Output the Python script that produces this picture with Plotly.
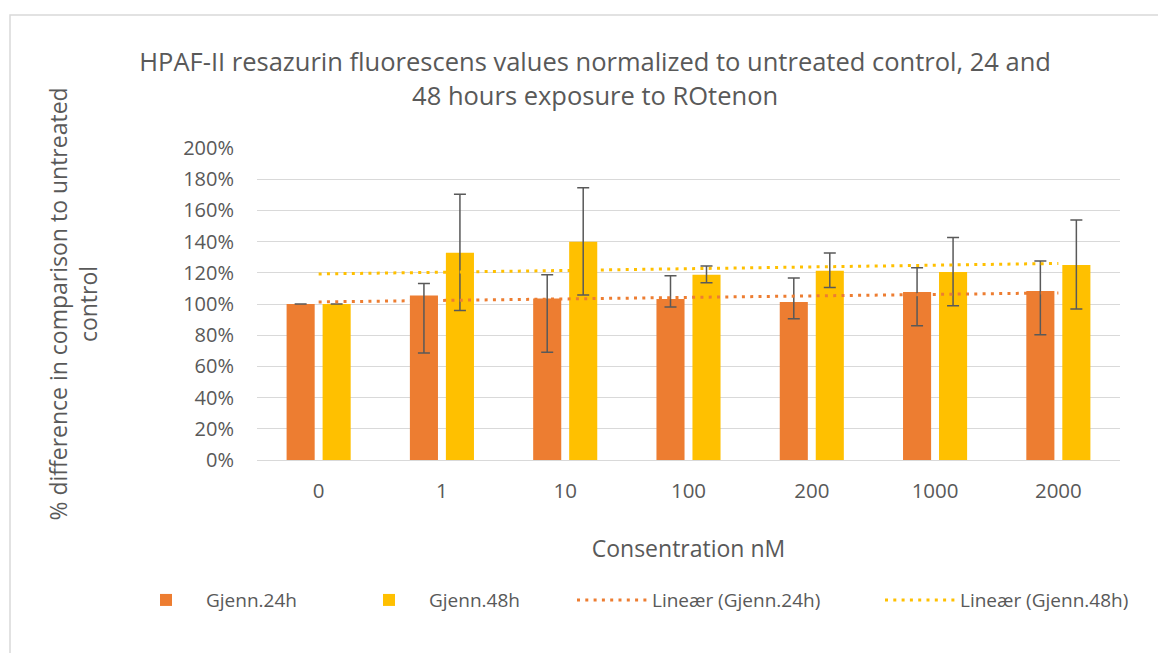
import numpy as np
import plotly.graph_objects as go

categories = ["0", "1", "10", "100", "200", "1000", "2000"]
mean_24h = [100.0, 105.5, 103.6, 103.2, 101.3, 107.7, 108.3]
upper_24h = [100.0, 113.2, 118.8, 118.1, 116.7, 123.3, 127.6]
lower_24h = [100.0, 68.6, 69.0, 98.1, 90.6, 86.1, 80.3]
mean_48h = [100.0, 132.9, 139.9, 118.8, 121.3, 120.5, 125.0]
upper_48h = [100.0, 170.3, 174.5, 124.3, 132.7, 142.7, 153.8]
lower_48h = [100.0, 95.9, 105.8, 113.6, 110.6, 98.9, 96.8]

FONT = "Open Sans"
TXT = "#595959"
C24 = "#ED7D31"
C48 = "#FFC000"


def frac(a):
    return [v / 100.0 for v in a]


def trend(vals):
    x = np.arange(1, len(vals) + 1)
    k, m = np.polyfit(x, np.array(vals) / 100.0, 1)
    return list(k * x + m)


fig = go.Figure()
for name, mean, up, lo, col, lg in [
    ("Gjenn.24h", mean_24h, upper_24h, lower_24h, C24, "legend"),
    ("Gjenn.48h", mean_48h, upper_48h, lower_48h, C48, "legend2"),
]:
    fig.add_trace(go.Bar(
        x=categories, y=frac(mean), name=name, marker_color=col,
        marker_line_width=0, legend=lg,
        error_y=dict(type="data", symmetric=False,
                     array=[(u - m) / 100 for u, m in zip(up, mean)],
                     arrayminus=[(m - l) / 100 for l, m in zip(lo, mean)],
                     color="#595959", thickness=1.5, width=6),
    ))

for name, mean, col, lg in [
    ("Lineær (Gjenn.24h)", mean_24h, C24, "legend3"),
    ("Lineær (Gjenn.48h)", mean_48h, C48, "legend4"),
]:
    fig.add_trace(go.Scatter(
        x=categories, y=trend(mean), name=name, mode="lines", legend=lg,
        line=dict(color=col, width=3, dash="3px,5.3px"),
    ))


def leg(x):
    return dict(orientation="h", x=x, xanchor="left", y=-0.449, yanchor="middle",
                font=dict(size=19, color=TXT), itemwidth=70,
                bgcolor="rgba(0,0,0,0)")


# page body has an 8px margin: figure origin sits at page (8, 8)
fig.update_layout(
    width=1158, height=645,
    paper_bgcolor="white", plot_bgcolor="white",
    margin=dict(l=249, r=46, t=140, b=193),
    font=dict(family=FONT, color=TXT, size=19),
    title=dict(
        text="HPAF-II resazurin fluorescens values normalized to untreated control, 24 and<br>48 hours exposure to ROtenon",
        x=0.507, xanchor="center", y=0.9016, yanchor="middle",
        font=dict(family=FONT, size=25.5, color=TXT),
    ),
    barmode="group", bargap=0.416, bargroupgap=0.22,
    showlegend=True,
    legend=leg(-0.1518), legend2=leg(0.1066), legend3=leg(0.3650), legend4=leg(0.7219),
    shapes=[dict(type="rect", xref="paper", yref="paper",
                 x0=-0.2862, x1=1.2, y0=-0.7, y1=1.426,
                 line=dict(color="#D9D9D9", width=1.5), fillcolor="rgba(0,0,0,0)",
                 layer="below")],
)
fig.update_yaxes(
    range=[0, 2.0], dtick=0.2, tickformat=".0%",
    showgrid=True, gridcolor="#D9D9D9", gridwidth=1,
    zeroline=True, zerolinecolor="#D9D9D9", zerolinewidth=1,
    tickfont=dict(size=20, color=TXT), ticks="", ticklabelstandoff=22,
    title=dict(text="% difference in comparison to untreated<br>control",
               font=dict(size=23, color=TXT), standoff=79),
)
fig.update_xaxes(
    showgrid=False, tickfont=dict(size=20.5, color=TXT), ticks="",
    ticklabelstandoff=16,
    title=dict(text="Consentration nM", font=dict(size=23, color=TXT), standoff=38),
)

fig.write_html("out.html")
